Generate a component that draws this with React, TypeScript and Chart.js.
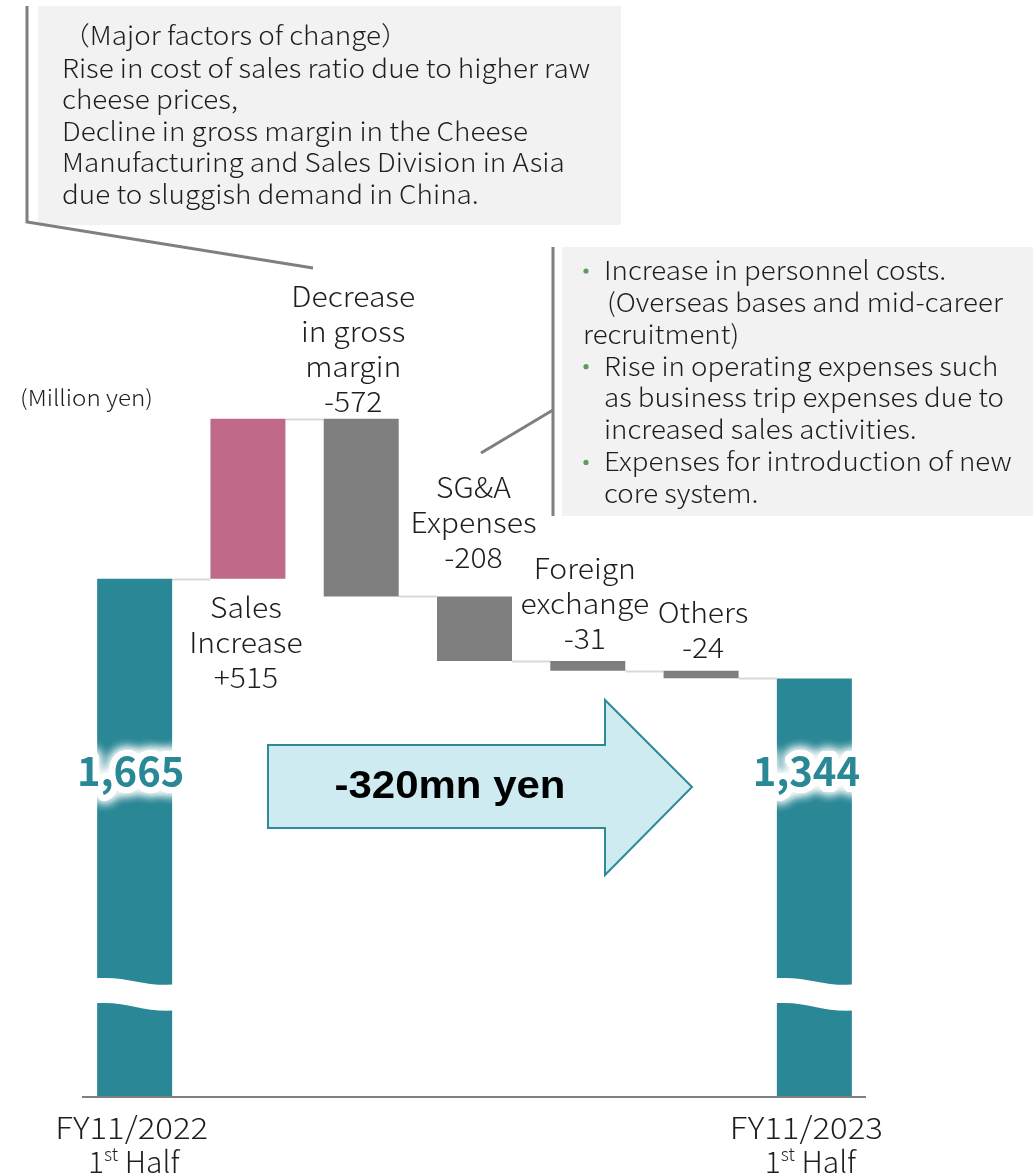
import React, { useEffect, useRef } from "react";
import { Chart, registerables } from "chart.js";
Chart.register(...registerables);

// ---------- data ----------
const categories = [
  "FY11/2022 1st Half",
  "Sales Increase",
  "Decrease in gross margin",
  "SG&A Expenses",
  "Foreign exchange",
  "Others",
  "FY11/2023 1st Half",
];
const amounts = [1665, 515, -572, -208, -31, -24, 1344];
const isTotal = [true, false, false, false, false, false, true];
const totalLabels = ["1,665", "", "", "", "", "", "1,344"];
const stepLabels = [
  [],
  ["Sales", "Increase", "+515"],
  ["Decrease", "in gross", "margin", "-572"],
  ["SG&A", "Expenses", "-208"],
  ["Foreign", "exchange", "-31"],
  ["Others", "-24"],
  [],
];
const periodLabels = [["FY11/2022", "1st Half"], [], [], [], [], [], ["FY11/2023", "1st Half"]];
const yMin = 0;
const yMax = 3000;
const breakValue = 340;
const unitText = "(Million yen)";
const changeText = "-320mn yen";
const note1Lines = [
  "（Major factors of change）",
  "Rise in cost of sales ratio due to higher raw",
  "cheese prices,",
  "Decline in gross margin in the Cheese",
  "Manufacturing and Sales Division in Asia",
  "due to sluggish demand in China.",
];
const note2Lines = [
  "Increase in personnel costs.",
  "(Overseas bases and mid-career",
  "recruitment)",
  "Rise in operating expenses such",
  "as business trip expenses due to",
  "increased sales activities.",
  "Expenses for introduction of new",
  "core system.",
];
const note2Bullets = [true, false, false, true, false, false, true, false];

// ---------- styles ----------
const TEAL = "#2A8896";
const PINK = "#C0698A";
const GRAY = "#7F7F7F";
const barColors = [TEAL, PINK, GRAY, GRAY, GRAY, GRAY, TEAL];
const FONT = '"Noto Sans CJK JP", "Noto Sans", sans-serif';
const W = "300";
const TEXT = "#1E1E1E";
const labelSide = ["", "below", "above", "above", "above", "above", ""];
const labelGap = [0, 29, 17, 39, 23, 23, 0];
const labelDx = [0, -2, -8, -1, -3, 2, 0];
const totalDx = [-4, 0, 0, 0, 0, 0, -8];
const periodDx = [[-3, -1], [], [], [], [], [], [-8, -4]];

// ---------- build floating bars ----------
let run = 0;
const ranges: number[][] = [];
const levels: number[] = [];
amounts.forEach((v, i) => {
  if (isTotal[i]) {
    ranges.push([0, v]);
    run = v;
  } else {
    ranges.push([run, run + v]);
    run += v;
  }
  levels.push(run);
});

function drawFit(ctx: CanvasRenderingContext2D, s: string, x: number, y: number, size: number, sx: number, align: CanvasTextAlign = "left", color = TEXT, weight = W, family = FONT) {
  ctx.save();
  ctx.font = `${weight} ${size}px ${family}`;
  ctx.textBaseline = "middle";
  ctx.textAlign = align;
  ctx.fillStyle = color;
  ctx.translate(x, y);
  ctx.scale(sx, 1);
  ctx.fillText(s, 0, 0);
  ctx.restore();
}

function fitScale(ctx: CanvasRenderingContext2D, s: string, size: number, target: number, weight = W, family = FONT) {
  ctx.save();
  ctx.font = `${weight} ${size}px ${family}`;
  const w = ctx.measureText(s).width;
  ctx.restore();
  return target / w;
}

const connectorPlugin = {
  id: "connectors",
  beforeDatasetsDraw(chart: any) {
    const ctx = chart.ctx as CanvasRenderingContext2D;
    const meta = chart.getDatasetMeta(0);
    const ys = chart.scales.y;
    ctx.save();
    ctx.strokeStyle = "#D9D9D9";
    ctx.lineWidth = 2;
    for (let i = 0; i < meta.data.length - 1; i++) {
      const a = meta.data[i];
      const b = meta.data[i + 1];
      const y = Math.round(ys.getPixelForValue(levels[i])) + 0.5;
      ctx.beginPath();
      ctx.moveTo(a.x + a.width / 2, y);
      ctx.lineTo(b.x - b.width / 2, y);
      ctx.stroke();
    }
    ctx.restore();
  },
};

const decorPlugin = {
  id: "decor",
  afterDatasetsDraw(chart: any) {
    const ctx = chart.ctx as CanvasRenderingContext2D;
    const meta = chart.getDatasetMeta(0);
    const ys = chart.scales.y;
    const area = chart.chartArea;

    // axis line
    ctx.save();
    ctx.strokeStyle = GRAY;
    ctx.lineWidth = 2;
    const by = ys.getPixelForValue(0) + 1;
    ctx.beginPath();
    ctx.moveTo(area.left + 4, by);
    ctx.lineTo(area.right - 5, by);
    ctx.stroke();
    ctx.restore();

    // axis break waves on total bars
    const yb = ys.getPixelForValue(breakValue);
    meta.data.forEach((el: any, i: number) => {
      if (!isTotal[i]) return;
      const L = el.x - el.width / 2 - 3;
      const R = el.x + el.width / 2 + 5;
      const w = R - L;
      ctx.save();
      ctx.fillStyle = "#FFFFFF";
      ctx.beginPath();
      ctx.moveTo(L, yb - 12);
      ctx.bezierCurveTo(L + 0.4 * w, yb - 15, L + 0.6 * w, yb - 3, R, yb - 6);
      ctx.lineTo(R, yb + 20);
      ctx.bezierCurveTo(L + 0.6 * w, yb + 23, L + 0.4 * w, yb + 10, L, yb + 13);
      ctx.closePath();
      ctx.fill();
      ctx.restore();
    });

    // step labels
    const lh = 35;
    meta.data.forEach((el: any, i: number) => {
      const lines = stepLabels[i];
      if (!lines.length) return;
      const top = Math.min(el.y, el.base);
      const bot = Math.max(el.y, el.base);
      const sx = fitScale(ctx, "Expenses", 28, 126);
      lines.forEach((s, k) => {
        let y: number;
        if (labelSide[i] === "below") y = bot + labelGap[i] + k * lh;
        else y = top - labelGap[i] - (lines.length - 1 - k) * lh;
        drawFit(ctx, s, el.x + labelDx[i], y, 28, sx, "center");
      });
    });

    // totals with glow
    meta.data.forEach((el: any, i: number) => {
      const s = totalLabels[i];
      if (!s) return;
      const x = el.x + totalDx[i];
      const y = 771;
      ctx.save();
      ctx.font = `bold 40px ${FONT}`;
      ctx.textAlign = "center";
      ctx.textBaseline = "middle";
      ctx.shadowColor = "rgba(255,255,255,1)";
      ctx.shadowBlur = 12;
      ctx.fillStyle = "#FFFFFF";
      ctx.strokeStyle = "#FFFFFF";
      ctx.lineWidth = 12;
      ctx.lineJoin = "round";
      for (let k = 0; k < 3; k++) {
        ctx.strokeText(s, x, y);
      }
      ctx.shadowBlur = 0;
      ctx.fillStyle = TEAL;
      ctx.fillText(s, x, y);
      ctx.restore();
    });

    // period labels
    meta.data.forEach((el: any, i: number) => {
      const pl = periodLabels[i];
      if (!pl.length) return;
      const sxp = fitScale(ctx, pl[0], 30, 153);
      drawFit(ctx, pl[0], el.x + periodDx[i][0], 1128, 30, sxp, "center");
      // "1st Half" with superscript
      ctx.save();
      ctx.font = `${W} 30px ${FONT}`;
      const w1 = ctx.measureText("1").width;
      const wh = ctx.measureText(" Half").width;
      ctx.font = `${W} 18px ${FONT}`;
      const ws = ctx.measureText("st").width;
      const total = w1 + ws + wh;
      let x0 = el.x + periodDx[i][1] - total / 2;
      ctx.textBaseline = "alphabetic";
      ctx.textAlign = "left";
      ctx.fillStyle = TEXT;
      const base = 1173;
      ctx.font = `${W} 30px ${FONT}`;
      ctx.fillText("1", x0, base);
      x0 += w1;
      ctx.font = `${W} 18px ${FONT}`;
      ctx.fillText("st", x0, base - 12);
      x0 += ws;
      ctx.font = `${W} 30px ${FONT}`;
      ctx.fillText(" Half", x0, base);
      ctx.restore();
    });
  },
  afterDraw(chart: any) {
    const ctx = chart.ctx as CanvasRenderingContext2D;

    // unit
    const sxu = fitScale(ctx, unitText, 22, 133);
    drawFit(ctx, unitText, 20, 398, 22, sxu, "left");

    // arrow
    ctx.save();
    ctx.fillStyle = "#CDEBF0";
    ctx.strokeStyle = "#2F8A98";
    ctx.lineWidth = 2;
    ctx.beginPath();
    ctx.moveTo(268, 745);
    ctx.lineTo(605, 745);
    ctx.lineTo(605, 700);
    ctx.lineTo(692, 787);
    ctx.lineTo(605, 875);
    ctx.lineTo(605, 828);
    ctx.lineTo(268, 828);
    ctx.closePath();
    ctx.fill();
    ctx.stroke();
    ctx.restore();
    const sxA = fitScale(ctx, changeText, 38, 231, "bold", '"Liberation Sans", Arial, sans-serif');
    drawFit(ctx, changeText, 450, 788, 38, sxA, "center", "#000000", "bold", '"Liberation Sans", Arial, sans-serif');

    // note 1
    ctx.save();
    ctx.fillStyle = "#F2F2F2";
    ctx.fillRect(38, 6, 583, 219);
    ctx.strokeStyle = GRAY;
    ctx.lineWidth = 3;
    ctx.beginPath();
    ctx.moveTo(27, 6);
    ctx.lineTo(27, 222);
    ctx.lineTo(313, 268);
    ctx.stroke();
    ctx.restore();
    const sx1 = fitScale(ctx, note1Lines[1], 26, 528);
    const n1y = [35, 68, 99, 131, 162, 194];
    note1Lines.forEach((s, k) => drawFit(ctx, s, 62, n1y[k], 26, sx1, "left"));

    // note 2
    ctx.save();
    ctx.fillStyle = "#F2F2F2";
    ctx.fillRect(562, 247, 471, 269);
    ctx.strokeStyle = GRAY;
    ctx.lineWidth = 3;
    ctx.beginPath();
    ctx.moveTo(553, 247);
    ctx.lineTo(553, 516);
    ctx.stroke();
    ctx.beginPath();
    ctx.moveTo(553, 410);
    ctx.lineTo(481, 453);
    ctx.stroke();
    ctx.restore();
    const sx2 = fitScale(ctx, note2Lines[4], 26, 400);
    note2Lines.forEach((s, k) => {
      const y = 270 + k * 31.9;
      let x = 604;
      if (k === 1) x = 607;
      if (k === 2) x = 583;
      if (note2Bullets[k]) {
        ctx.save();
        ctx.fillStyle = "#5E9C5E";
        ctx.beginPath();
        ctx.arc(586, y + 1, 2.6, 0, Math.PI * 2);
        ctx.fill();
        ctx.restore();
      }
      drawFit(ctx, s, x, y, 26, sx2, "left");
    });
  },
};

export default function App() {
  const ref = useRef<HTMLCanvasElement>(null);
  useEffect(() => {
    const chart = new Chart(ref.current as HTMLCanvasElement, {
      type: "bar",
      data: {
        labels: categories,
        datasets: [
          {
            data: ranges as any,
            backgroundColor: barColors,
            borderWidth: 0,
            borderSkipped: false,
            categoryPercentage: 1,
            barPercentage: 0.662,
          },
        ],
      },
      options: {
        animation: false,
        responsive: false,
        devicePixelRatio: 1,
        layout: { padding: { left: 78, right: 165, top: 164, bottom: 80 } },
        plugins: { legend: { display: false }, tooltip: { enabled: false } },
        scales: {
          x: { display: false },
          y: { display: false, min: yMin, max: yMax },
        },
      },
      plugins: [connectorPlugin, decorPlugin],
    });
    return () => chart.destroy();
  }, []);
  return (
    <div style={{ position: "absolute", left: 0, top: 0, width: 1036, height: 1176, background: "#FFFFFF" }}>
      <canvas ref={ref} width={1036} height={1176} style={{ display: "block" }} />
    </div>
  );
}
